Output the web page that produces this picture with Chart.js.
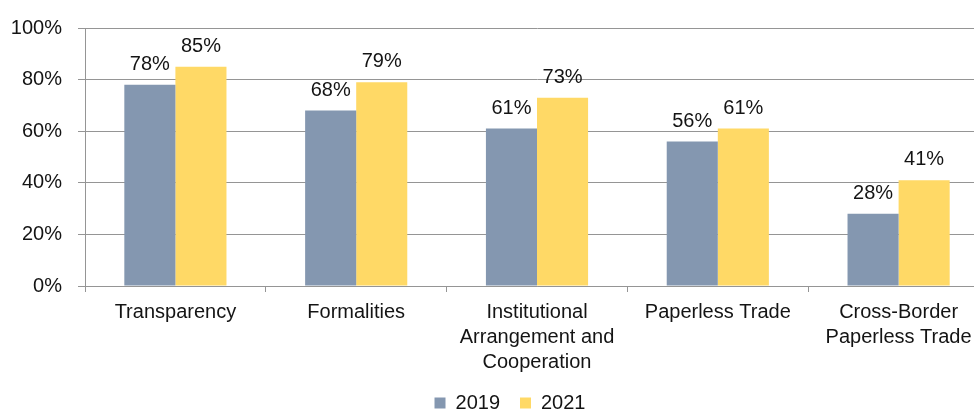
<!DOCTYPE html>
<html>
<head>
<meta charset="utf-8">
<script src="https://cdn.jsdelivr.net/npm/chart.js@4/dist/chart.umd.min.js"></script>
<style>
    html, body { margin: 0; padding: 0; overflow: hidden; background: #fff; }
    #wrap { width: 974px; height: 414px; overflow: hidden; }
</style>
</head>
<body>
<div id="wrap">
    <canvas id="trade-chart" width="1020" height="423"></canvas>
</div>
<script>
const categories = [
    'Transparency',
    'Formalities',
    ['Institutional', 'Arrangement and', 'Cooperation'],
    'Paperless Trade',
    ['Cross-Border', 'Paperless Trade'],
];
const series2019 = [78, 68, 61, 56, 28];
const series2021 = [85, 79, 73, 61, 41];
const yTicks = [0, 20, 40, 60, 80, 100];

const gridColor = '#959595';
const textColor = '#141414';

Chart.defaults.animation = false;
Chart.defaults.font.family = "'Liberation Sans', Arial, sans-serif";
Chart.defaults.font.size = 20;
Chart.defaults.color = textColor;

// value labels above each bar
const barLabels = {
    id: 'barLabels',
    afterDatasetsDraw(chart) {
        const { ctx } = chart;
        ctx.save();
        ctx.font = "20px 'Liberation Sans', Arial, sans-serif";
        ctx.fillStyle = textColor;
        ctx.textAlign = 'center';
        ctx.textBaseline = 'alphabetic';
        chart.data.datasets.forEach((ds, i) => {
            chart.getDatasetMeta(i).data.forEach((bar, j) => {
                ctx.fillText(ds.data[j] + '%', bar.x, bar.y - 15);
            });
        });
        ctx.restore();
    },
};

new Chart(document.getElementById('trade-chart'), {
    type: 'bar',
    data: {
        labels: categories,
        datasets: [{
            label: '2019',
            data: series2019,
            backgroundColor: '#8497b0',
            borderWidth: 0,
        }, {
            label: '2021',
            data: series2021,
            backgroundColor: '#ffd966',
            borderWidth: 0,
        }],
    },
    options: {
        responsive: false,
        categoryPercentage: 0.565,
        barPercentage: 1.0,
        layout: { padding: { top: 25, left: 0, right: 0, bottom: 0 } },
        plugins: {
            legend: {
                position: 'bottom',
                labels: {
                    boxWidth: 11,
                    boxHeight: 11,
                    padding: 20,
                    color: textColor,
                },
            },
            tooltip: { enabled: false },
        },
        scales: {
            x: {
                offset: true,
                grid: {
                    offset: true,
                    drawOnChartArea: false,
                    tickLength: 6,
                    color: gridColor,
                },
                border: { color: gridColor },
                ticks: {
                    padding: 8,
                    autoSkip: false,
                    maxRotation: 0,
                    font: { lineHeight: 1.25 },
                },
                afterFit: (scale) => { scale.height = 87; },
            },
            y: {
                min: 0,
                max: 100,
                afterBuildTicks: (scale) => {
                    scale.ticks = yTicks.map((v) => ({ value: v }));
                },
                grid: {
                    tickLength: 7,
                    color: gridColor,
                },
                border: { color: gridColor },
                ticks: {
                    padding: 16,
                    callback: (v) => v + '%',
                },
                afterFit: (scale) => { scale.width = 85; },
            },
            spacer: {
                position: 'right',
                grid: { display: false },
                border: { display: false },
                ticks: { display: false },
                afterFit: (scale) => { scale.width = 31; },
            },
        },
    },
    plugins: [barLabels],
});
</script>
</body>
</html>
